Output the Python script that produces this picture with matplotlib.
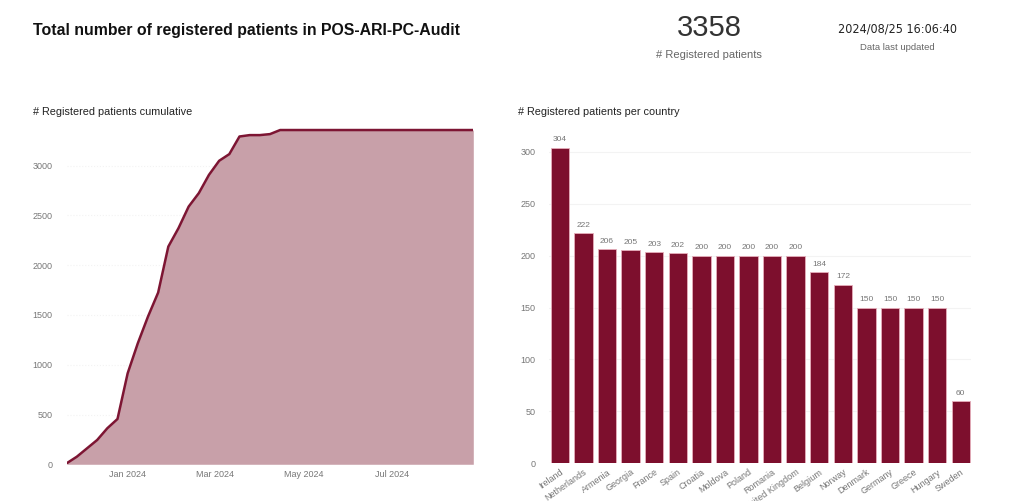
import numpy as np
import pandas as pd
import matplotlib
matplotlib.use("Agg")
import matplotlib.pyplot as plt
import matplotlib.dates as mdates

plt.rcParams["font.family"] = ["Liberation Sans", "DejaVu Sans"]

# ---- data ----
week_dates = ["2023-11-20", "2023-11-27", "2023-12-04", "2023-12-11", "2023-12-18",
              "2023-12-25", "2024-01-01", "2024-01-08", "2024-01-15", "2024-01-22",
              "2024-01-29", "2024-02-05", "2024-02-12", "2024-02-19", "2024-02-26",
              "2024-03-04", "2024-03-11", "2024-03-18", "2024-03-25", "2024-04-01",
              "2024-04-08", "2024-04-15", "2024-08-26"]
cumulative = [10, 76, 160, 244, 362, 455, 914, 1216, 1484, 1725,
              2187, 2372, 2589, 2724, 2908, 3049, 3116, 3293, 3307, 3307,
              3317, 3358, 3358]

countries = ["Ireland", "Netherlands", "Armenia", "Georgia", "France", "Spain",
             "Croatia", "Moldova", "Poland", "Romania", "United Kingdom", "Belgium",
             "Norway", "Denmark", "Germany", "Greece", "Hungary", "Sweden"]
patients = [304, 222, 206, 205, 203, 202, 200, 200, 200, 200, 200, 184,
            172, 150, 150, 150, 150, 60]

total_patients = 3358
last_updated = "2024/08/25 16:06:40"

LINE_C = "#7d1533"
FILL_C = "#c8a0a9"
BAR_C = "#7d0f2d"
TICK_C = "#777777"

fig = plt.figure(figsize=(10.24, 5.01), dpi=100)

# ---- header ----
fig.text(33 / 1024, 0.940, "Total number of registered patients in POS-ARI-PC-Audit",
         fontsize=11.4, fontweight="bold", color="#111111", va="center", ha="left")
fig.text(709 / 1024, 0.9435, str(total_patients), fontsize=21, color="#333333",
         ha="center", va="center")
fig.text(709 / 1024, 0.891, "# Registered patients", fontsize=8, color="#666666",
         ha="center", va="center")
fig.text(897 / 1024, 0.9427, last_updated, fontsize=9, color="#222222",
         ha="center", va="center", family="DejaVu Sans", fontstretch="condensed")
fig.text(897 / 1024, 0.906, "Data last updated", fontsize=6.8, color="#666666",
         ha="center", va="center")

fig.text(33 / 1024, 0.776, "# Registered patients cumulative", fontsize=7.8,
         color="#222222", va="center", ha="left")
fig.text(518 / 1024, 0.776, "# Registered patients per country", fontsize=7.8,
         color="#222222", va="center", ha="left")

# ---- cumulative line ----
ax1 = fig.add_axes([0.0651, 0.0733, 0.3971, 0.6755])
dates = pd.to_datetime(week_dates)
ax1.fill_between(dates, 0, cumulative, color=FILL_C, lw=0)
ax1.plot(dates, cumulative, color=LINE_C, lw=1.8)
ax1.set_xlim(dates[0], dates[-1])
ax1.set_ylim(0, 3400)
ax1.set_yticks(np.arange(0, 3001, 500))
ax1.xaxis.set_major_locator(mdates.MonthLocator(bymonth=[1, 3, 5, 7]))
ax1.xaxis.set_major_formatter(mdates.DateFormatter("%b %Y"))
ax1.grid(axis="y", color="#f3f3f3", lw=0.8, ls=":")
ax1.set_axisbelow(True)
for s in ax1.spines.values():
    s.set_visible(False)
ax1.tick_params(length=0, labelsize=6.5, colors=TICK_C, pad=4)
ax1.tick_params(axis="y", pad=10)

# ---- per-country bars ----
ax2 = fig.add_axes([0.5364, 0.0752, 0.4122, 0.6635])
xs = np.arange(len(countries))
bars = ax2.bar(xs, patients, width=0.78, color=BAR_C, edgecolor="#e6aebb", lw=0.6)
for b, v in zip(bars, patients):
    ax2.text(b.get_x() + b.get_width() / 2, v + 4, str(v), ha="center", va="bottom",
             fontsize=6, color=TICK_C)
ax2.set_xlim(-0.45, len(countries) - 0.55)
ax2.set_ylim(0, 320)
ax2.set_yticks(np.arange(0, 301, 50))
ax2.set_xticks(xs)
ax2.set_xticklabels(countries, rotation=35, ha="right", rotation_mode="anchor")
ax2.grid(axis="y", color="#f3f3f3", lw=0.8)
ax2.set_axisbelow(True)
for s in ax2.spines.values():
    s.set_visible(False)
ax2.tick_params(length=0, labelsize=6.5, colors=TICK_C)
ax2.tick_params(axis="y", pad=10)
ax2.tick_params(axis="x", pad=3)

fig.savefig("out.png", dpi=100, facecolor="white")
